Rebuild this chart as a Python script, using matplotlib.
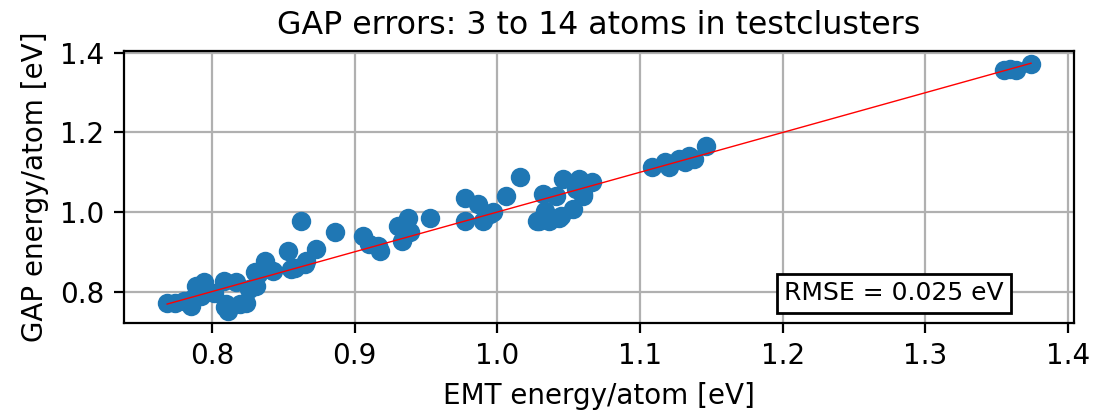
import matplotlib
matplotlib.use('Agg')
import matplotlib.pyplot as plt
import numpy as np

# EMT vs GAP energy per atom (eV)
emt = [0.7685, 0.774, 0.780, 0.786, 0.789, 0.794, 0.792, 0.785, 0.801, 0.808,
       0.810, 0.809, 0.811, 0.8195, 0.824, 0.826, 0.830, 0.837, 0.831, 0.817,
       0.832, 0.843, 0.853, 0.862, 0.855, 0.858, 0.865, 0.873, 0.866, 0.886,
       0.906, 0.916, 0.910, 0.918, 0.930, 0.933, 0.939, 0.937, 0.953, 0.977,
       0.977, 0.9865, 0.990, 0.995, 1.006, 1.0155, 1.032, 1.029, 1.043, 1.046,
       1.055, 1.060, 1.053, 1.0665, 1.041, 1.036, 0.997, 1.028, 1.033, 1.0445,
       1.057, 1.060, 1.108, 1.1175, 1.127, 1.134, 1.138, 1.1465, 1.120, 1.1315,
       1.359, 1.3635, 1.374, 1.355]
gap = [0.772, 0.772, 0.776, 0.781, 0.814, 0.823, 0.789, 0.764, 0.797, 0.827,
       0.768, 0.760, 0.752, 0.768, 0.772, 0.806, 0.848, 0.877, 0.814, 0.823,
       0.844, 0.852, 0.902, 0.978, 0.856, 0.860, 0.869, 0.907, 0.877, 0.949,
       0.940, 0.915, 0.919, 0.902, 0.965, 0.927, 0.949, 0.986, 0.984, 1.034,
       0.978, 1.020, 0.978, 0.995, 1.041, 1.087, 1.045, 0.978, 0.986, 1.083,
       1.058, 1.041, 1.007, 1.075, 1.041, 0.978, 0.999, 0.978, 1.003, 0.990,
       1.083, 1.045, 1.112, 1.125, 1.133, 1.142, 1.133, 1.167, 1.112, 1.125,
       1.360, 1.358, 1.372, 1.356]
rmse = 0.025

emt = np.array(emt)
gap = np.array(gap)

fig, ax = plt.subplots(figsize=(5.475, 2.085), dpi=200)
fig.subplots_adjust(left=0.1132, right=0.981, top=0.878, bottom=0.2254)

ax.set_axisbelow(True)
ax.grid(True)
ax.scatter(emt, gap)
lims = [emt.min(), emt.max()]
ax.plot(lims, lims, 'r-', lw=0.5)

ax.text(0.695, 0.11, 'RMSE = %.3f eV' % rmse, transform=ax.transAxes,
        va='center', ha='left', fontsize=9,
        bbox=dict(facecolor='white', edgecolor='black', boxstyle='square,pad=0.3'))

ax.set_title('GAP errors: 3 to 14 atoms in testclusters', fontsize=11.4)
ax.set_xlabel('EMT energy/atom [eV]')
ax.set_ylabel('GAP energy/atom [eV]')

fig.savefig('out.png', dpi=200)
